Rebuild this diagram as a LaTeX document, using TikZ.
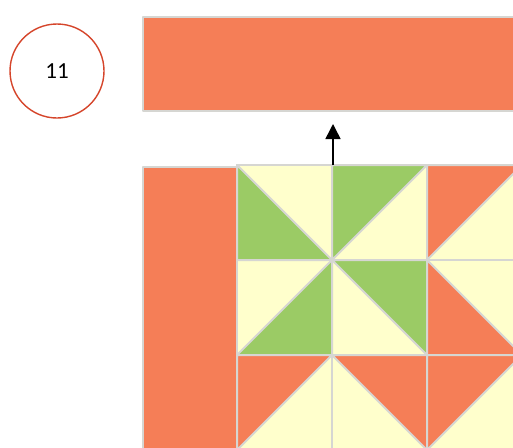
\documentclass[tikz,border=0pt]{standalone}
\usepackage{fontspec}
\setmainfont{Carlito}
\usetikzlibrary{arrows.meta}
\definecolor{qorange}{HTML}{F57E57}
\definecolor{qyellow}{HTML}{FFFFCC}
\definecolor{qgreen}{HTML}{9BCB65}
\definecolor{qgray}{HTML}{D6D6D2}
\definecolor{qred}{HTML}{D5452B}
\begin{document}
\begin{tikzpicture}[x=1pt,y=-1pt,
  edge/.style={draw=qgray, line width=2pt},
  patch/.style={fill=#1, draw=qgray, line width=2pt, line join=round}]
\useasboundingbox (0,0) rectangle (513,447);
\clip (0,0) rectangle (513,447);
% number badge
\node[circle, draw=qred, line width=1.4pt, minimum size=94pt, inner sep=0pt] (num) at (57,71) {\fontsize{23}{27}\selectfont 11};
% top strip and left strip
\path[patch=qorange] (143,17) rectangle (540,111);
\path[patch=qorange] (143,167) rectangle (237,470);
% cell backgrounds
\foreach \cx in {237,332,427}{
  \foreach \cy in {165,260,355}{
    \path[fill=qyellow] (\cx,\cy) rectangle ++(95,95);
  }
}
% triangles
\path[patch=qgreen] (237,165) -- (237,260) -- (332,260) -- cycle;
\path[patch=qgreen] (332,165) -- (427,165) -- (332,260) -- cycle;
\path[patch=qorange] (427,165) -- (522,165) -- (427,260) -- cycle;
\path[patch=qgreen] (332,260) -- (332,355) -- (237,355) -- cycle;
\path[patch=qgreen] (332,260) -- (427,260) -- (427,355) -- cycle;
\path[patch=qorange] (427,260) -- (427,355) -- (522,355) -- cycle;
\path[patch=qorange] (237,355) -- (332,355) -- (237,450) -- cycle;
\path[patch=qorange] (332,355) -- (427,355) -- (427,450) -- cycle;
\path[patch=qorange] (427,355) -- (522,355) -- (427,450) -- cycle;
% cell outlines
\foreach \cx in {237,332,427}{
  \foreach \cy in {165,260,355}{
    \path[edge] (\cx,\cy) rectangle ++(95,95);
  }
}
% arrow
\coordinate (abase) at (333,165);
\coordinate (atip) at (333,124);
\draw[line width=1.5pt, -{Triangle[length=15pt,width=15pt]}] (abase) -- (atip);
\end{tikzpicture}
\end{document}
